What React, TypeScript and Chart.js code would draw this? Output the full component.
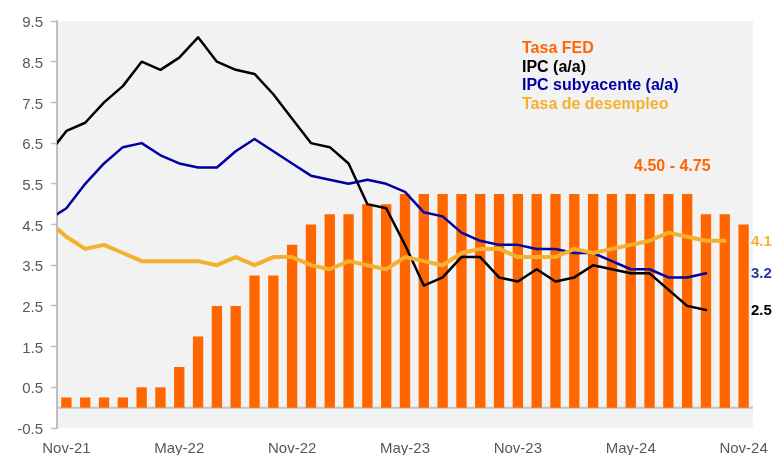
import React, { useEffect, useRef } from 'react';
import { Chart, registerables } from 'chart.js';

Chart.register(...registerables);

const months = [
  'Oct-21', 'Nov-21', 'Dec-21',
  'Jan-22', 'Feb-22', 'Mar-22', 'Apr-22', 'May-22', 'Jun-22', 'Jul-22', 'Aug-22', 'Sep-22', 'Oct-22', 'Nov-22', 'Dec-22',
  'Jan-23', 'Feb-23', 'Mar-23', 'Apr-23', 'May-23', 'Jun-23', 'Jul-23', 'Aug-23', 'Sep-23', 'Oct-23', 'Nov-23', 'Dec-23',
  'Jan-24', 'Feb-24', 'Mar-24', 'Apr-24', 'May-24', 'Jun-24', 'Jul-24', 'Aug-24', 'Sep-24', 'Oct-24', 'Nov-24',
];

const fedRate = [
  null, 0.25, 0.25,
  0.25, 0.25, 0.5, 0.5, 1.0, 1.75, 2.5, 2.5, 3.25, 3.25, 4.0, 4.5,
  4.75, 4.75, 5.0, 5.0, 5.25, 5.25, 5.25, 5.25, 5.25, 5.25, 5.25, 5.25,
  5.25, 5.25, 5.25, 5.25, 5.25, 5.25, 5.25, 5.25, 4.75, 4.75, 4.5,
];

const cpi = [
  6.2, 6.8, 7.0,
  7.5, 7.9, 8.5, 8.3, 8.6, 9.1, 8.5, 8.3, 8.2, 7.7, 7.1, 6.5,
  6.4, 6.0, 5.0, 4.9, 4.0, 3.0, 3.2, 3.7, 3.7, 3.2, 3.1, 3.4,
  3.1, 3.2, 3.5, 3.4, 3.3, 3.3, 2.9, 2.5, 2.4, null, null,
];

const coreCpi = [
  4.6, 4.9, 5.5,
  6.0, 6.4, 6.5, 6.2, 6.0, 5.9, 5.9, 6.3, 6.6, 6.3, 6.0, 5.7,
  5.6, 5.5, 5.6, 5.5, 5.3, 4.8, 4.7, 4.3, 4.1, 4.0, 4.0, 3.9,
  3.9, 3.8, 3.8, 3.6, 3.4, 3.4, 3.2, 3.2, 3.3, null, null,
];

const unemployment = [
  4.6, 4.2, 3.9,
  4.0, 3.8, 3.6, 3.6, 3.6, 3.6, 3.5, 3.7, 3.5, 3.7, 3.7, 3.5,
  3.4, 3.6, 3.5, 3.4, 3.7, 3.6, 3.5, 3.8, 3.9, 3.9, 3.7, 3.7,
  3.7, 3.9, 3.8, 3.9, 4.0, 4.1, 4.3, 4.2, 4.1, 4.1, null,
];

const yTicks = [-0.5, 0.5, 1.5, 2.5, 3.5, 4.5, 5.5, 6.5, 7.5, 8.5, 9.5];
const xTickLabels = ['Nov-21', 'May-22', 'Nov-22', 'May-23', 'Nov-23', 'May-24', 'Nov-24'];
const seriesNames = ['Tasa FED', 'IPC (a/a)', 'IPC subyacente (a/a)', 'Tasa de desempleo'];
const endLabels = ['2.5', '3.2', '4.1'];
const fedRangeLabel = '4.50 - 4.75';

const COLORS = {
  fed: '#ff6600',
  cpi: '#000000',
  core: '#0000a0',
  unemp: '#f4b02f',
};
const FONT = "'Liberation Sans', Arial, sans-serif";

function lastValue(arr: (number | null)[]): number {
  for (let i = arr.length - 1; i >= 0; i--) {
    if (arr[i] != null) return arr[i] as number;
  }
  return 0;
}

export default function App() {
  const ref = useRef<HTMLCanvasElement>(null);

  useEffect(() => {
    const canvas = ref.current;
    if (!canvas) return;

    const decorPlugin = {
      id: 'decor',
      beforeDraw(chart: any) {
        const { ctx, chartArea: a } = chart;
        ctx.save();
        ctx.fillStyle = '#f2f2f2';
        ctx.fillRect(a.left, a.top, a.right - a.left, a.bottom - a.top);
        ctx.restore();
      },
      beforeDatasetsDraw(chart: any) {
        const { ctx, chartArea: a, scales } = chart;
        const y0 = scales.y.getPixelForValue(0);
        ctx.save();
        ctx.strokeStyle = '#c4c4c4';
        ctx.lineWidth = 2;
        ctx.beginPath();
        ctx.moveTo(a.left, y0);
        ctx.lineTo(a.right, y0);
        ctx.stroke();
        ctx.restore();
      },
      afterDatasetsDraw(chart: any) {
        const { ctx, chartArea: a, scales } = chart;
        ctx.save();
        // legend text
        const legendColors = [COLORS.fed, COLORS.cpi, COLORS.core, COLORS.unemp];
        ctx.font = `bold 16px ${FONT}`;
        ctx.textAlign = 'left';
        ctx.textBaseline = 'middle';
        seriesNames.forEach((name, i) => {
          ctx.fillStyle = legendColors[i];
          ctx.fillText(name, a.left + 465, a.top + 28 + i * 18.5);
        });
        // end labels
        const endSeries = [cpi, coreCpi, unemployment];
        const endColors = [COLORS.cpi, '#1f3f9a', COLORS.unemp];
        ctx.font = `bold 15px ${FONT}`;
        endSeries.forEach((s, i) => {
          ctx.fillStyle = endColors[i];
          ctx.fillText(endLabels[i], a.right - 2, scales.y.getPixelForValue(lastValue(s)) + 1);
        });
        // fed range label
        ctx.font = `bold 16px ${FONT}`;
        ctx.textAlign = 'center';
        ctx.fillStyle = COLORS.fed;
        ctx.fillText(fedRangeLabel, scales.x.getPixelForValue(months.indexOf('Jul-24')) + 4, scales.y.getPixelForValue(5.95) + 1);
        ctx.restore();
      },
    };

    const chart = new Chart(canvas, {
      type: 'bar',
      data: {
        labels: months,
        datasets: [
          {
            type: 'bar',
            label: seriesNames[0],
            data: fedRate,
            backgroundColor: COLORS.fed,
            borderWidth: 0,
            categoryPercentage: 1,
            barPercentage: 0.55,
            order: 10,
          },
          {
            type: 'line',
            label: seriesNames[1],
            data: cpi,
            borderColor: COLORS.cpi,
            borderWidth: 2.5,
            pointRadius: 0,
            tension: 0,
            borderJoinStyle: 'round',
            borderCapStyle: 'round',
            order: 3,
          },
          {
            type: 'line',
            label: seriesNames[2],
            data: coreCpi,
            borderColor: COLORS.core,
            borderWidth: 2.5,
            pointRadius: 0,
            tension: 0,
            borderJoinStyle: 'round',
            borderCapStyle: 'round',
            order: 2,
          },
          {
            type: 'line',
            label: seriesNames[3],
            data: unemployment,
            borderColor: COLORS.unemp,
            borderWidth: 4,
            pointRadius: 0,
            tension: 0,
            borderJoinStyle: 'round',
            borderCapStyle: 'round',
            order: 1,
          },
        ] as any,
      },
      options: {
        responsive: false,
        animation: false,
        layout: { padding: { left: 0, top: 21, right: 23, bottom: 0 } },
        plugins: {
          legend: { display: false },
          tooltip: { enabled: false },
        },
        scales: {
          x: {
            type: 'category',
            min: 'Nov-21',
            offset: true,
            grid: { display: false, drawTicks: false },
            border: { display: false },
            ticks: {
              autoSkip: false,
              maxRotation: 0,
              minRotation: 0,
              padding: 12,
              color: '#595959',
              font: { family: FONT, size: 15 },
              callback: (val: any) => {
                const lbl = months[val as number];
                return xTickLabels.includes(lbl) ? lbl : '';
              },
            },
            afterFit: (scale: any) => {
              scale.height = 27;
              scale.paddingLeft = 0;
              scale.paddingRight = 0;
            },
          },
          y: {
            type: 'linear',
            min: -0.5,
            max: 9.5,
            position: 'left',
            grid: {
              drawOnChartArea: false,
              drawTicks: true,
              tickLength: 6,
              tickColor: '#bfbfbf',
              tickWidth: 1.5,
            },
            border: { display: true, color: '#bfbfbf', width: 2 },
            ticks: {
              padding: 8,
              labelOffset: 2,
              color: '#595959',
              font: { family: FONT, size: 15 },
              callback: (v: any) => Number(v).toFixed(1),
            },
            afterBuildTicks: (scale: any) => {
              scale.ticks = yTicks.map((v) => ({ value: v }));
            },
            afterFit: (scale: any) => {
              scale.width = 57;
              scale.paddingTop = 0;
              scale.paddingBottom = 0;
            },
          },
        },
      } as any,
      plugins: [decorPlugin],
    });

    return () => {
      chart.destroy();
    };
  }, []);

  return (
    <div style={{ position: 'fixed', left: 0, top: 0, width: 776, height: 455, background: '#ffffff' }}>
      <canvas ref={ref} width={776} height={455} style={{ display: 'block' }} />
    </div>
  );
}
